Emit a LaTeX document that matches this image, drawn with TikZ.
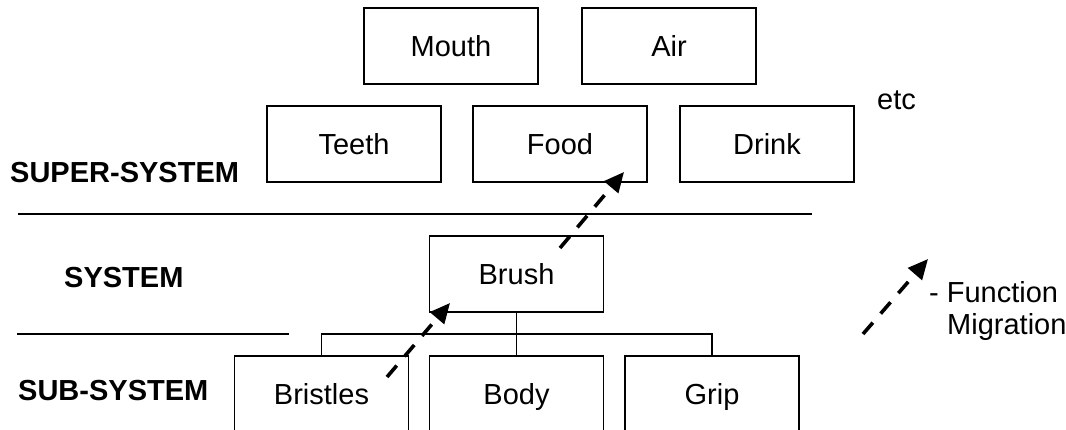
\documentclass[tikz,border=0pt]{standalone}
\usepackage{fontspec}
\setmainfont{Liberation Sans}
\usetikzlibrary{arrows.meta,calc}
\tikzset{
  part/.style={draw, line width=1.2pt, minimum width=174pt, minimum height=76pt,
    inner sep=0pt, text height=21pt, text depth=0pt, font=\fontsize{29}{33}\selectfont},
  level/.style={anchor=base west, inner sep=0pt, font=\fontsize{29}{33}\selectfont\bfseries},
  plain/.style={anchor=base west, inner sep=0pt, font=\fontsize{29}{33}\selectfont},
  divider/.style={line width=1.2pt},
  link/.style={line width=1.2pt},
  migrate/.style={line width=3.6pt, dash pattern=on 15pt off 12pt,
    -{Triangle[length=20pt,width=18pt]}},
}
\begin{document}
\begin{tikzpicture}[x=1pt,y=-1pt]
\useasboundingbox (0,0) rectangle (1066,430);
\clip (0,0) rectangle (1066,430);

% super-system elements
\node[part] (mouth) at (451,46) {Mouth};
\node[part] (air) at (669,46) {Air};
\node[part] (teeth) at (354,144) {Teeth};
\node[part] (food) at (560,144) {Food};
\node[part] (drink) at (767,144) {Drink};
\node[plain] (etc) at (877,110) {etc};

% system and its parts
\node[part] (brush) at (516.5,274) {Brush};
\node[part] (bristles) at (321.5,394) {Bristles};
\node[part] (body) at (516.5,394) {Body};
\node[part] (grip) at (712,394) {Grip};

% level names
\node[level] (super) at (10,183) {SUPER-SYSTEM};
\node[level] (sys) at (64,288) {SYSTEM};
\node[level] (sub) at (18,400) {SUB-SYSTEM};

% level dividers
\coordinate (d1a) at (18,214);
\coordinate (d1b) at (812,214);
\coordinate (d2a) at (17,334);
\coordinate (d2b) at (289,334);
\draw[divider] (d1a) -- (d1b);
\draw[divider] (d2a) -- (d2b);

% part tree
\coordinate (hub) at ($(brush.south)!0.5!(body.north)$);
\draw[link] (brush.south) -- (body.north);
\draw[link] (bristles.north) |- (hub) -| (grip.north);

% function migration arrows
\coordinate (m1a) at (387,377);
\coordinate (m1b) at (450,303);
\coordinate (m2a) at (560,248);
\coordinate (m2b) at (624,172);
\draw[migrate] (m1a) -- (m1b);
\draw[migrate] (m2a) -- (m2b);

% legend
\coordinate (m3a) at (863,334);
\coordinate (m3b) at (928,259);
\draw[migrate] (m3a) -- (m3b);
\node[plain] (fn) at (929,303) {- Function};
\node[plain] (mig) at (947,335) {Migration};
\end{tikzpicture}
\end{document}
